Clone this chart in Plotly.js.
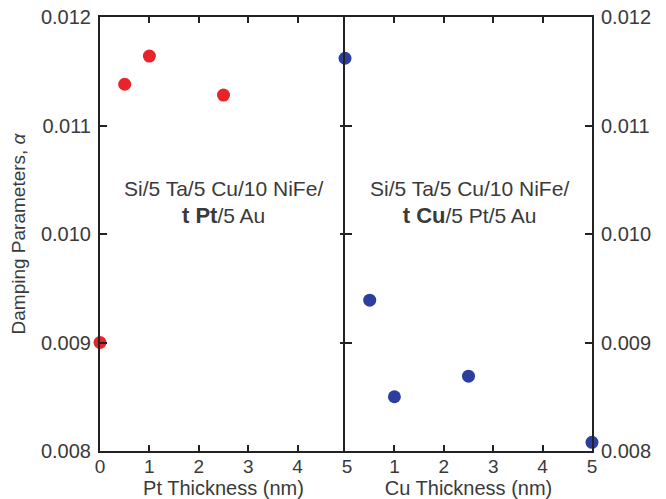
<!DOCTYPE html>
<html>
<head>
<meta charset="utf-8">
<script src="https://cdn.plot.ly/plotly-3.0.1.min.js"></script>
<style>html,body{margin:0;padding:0;background:#fff;}#chart{width:666px;height:499px;}</style>
</head>
<body>
<div id="chart"></div>
<script>
// Left panel: Pt thickness series
const ptThickness = [0, 0.5, 1, 2.5];
const ptDamping = [0.00900, 0.01138, 0.01164, 0.01128];
// Right panel: Cu thickness series
const cuThickness = [0, 0.5, 1, 2.5, 5];
const cuDamping = [0.01162, 0.00939, 0.00850, 0.00869, 0.00808];

const yTicks = [0.008, 0.009, 0.010, 0.011, 0.012];
const yTickText = ['0.008', '0.009', '0.010', '0.011', '0.012'];
const ptTicks = [0, 1, 2, 3, 4, 5];
const cuTicks = [1, 2, 3, 4, 5];

const labelPt = 'Si/5 Ta/5 Cu/10 NiFe/<br><span style="font-size:22px"><b>t Pt</b></span>/5 Au';
const labelCu = 'Si/5 Ta/5 Cu/10 NiFe/<br><span style="font-size:22px"><b>t Cu</b></span>/5 Pt/5 Au';

const fontFam = 'Liberation Sans, Arial, sans-serif';
const txtCol = '#3a3a3a';
const lineCol = '#222';

const traces = [
  {x: ptThickness, y: ptDamping, xaxis: 'x', yaxis: 'y', mode: 'markers', type: 'scatter',
   marker: {color: '#e8242b', size: 13}, cliponaxis: false, showlegend: false},
  {x: cuThickness, y: cuDamping, xaxis: 'x2', yaxis: 'y2', mode: 'markers', type: 'scatter',
   marker: {color: '#2d3f9e', size: 13}, cliponaxis: false, showlegend: false}
];

const xCommon = {range: [0, 5], showline: true, linecolor: lineCol, linewidth: 2,
  mirror: 'ticks', ticks: 'inside', ticklen: 6, tickwidth: 2, tickcolor: lineCol,
  showgrid: false, zeroline: false, tickfont: {size: 19, color: txtCol, family: fontFam},
  tickmode: 'array', fixedrange: true, ticklabelstandoff: -3};
const yCommon = {range: [0.008, 0.012], showline: true, linecolor: lineCol, linewidth: 2,
  mirror: 'ticks', ticks: 'inside', ticklen: 7, tickwidth: 2, tickcolor: lineCol,
  showgrid: false, zeroline: false, tickfont: {size: 20, color: txtCol, family: fontFam},
  tickmode: 'array', tickvals: yTicks, ticktext: yTickText, ticklabelstandoff: 3};

const layout = {
  width: 666, height: 499,
  margin: {l: 100, r: 74, t: 17, b: 48},
  paper_bgcolor: '#fff', plot_bgcolor: '#fff',
  font: {family: fontFam, color: txtCol},
  xaxis: Object.assign({}, xCommon, {domain: [0, 0.502], anchor: 'y', tickvals: ptTicks,
    title: {text: 'Pt Thickness (nm)', font: {size: 20, color: txtCol}, standoff: 3}}),
  xaxis2: Object.assign({}, xCommon, {domain: [0.498, 1], anchor: 'y2', tickvals: cuTicks,
    title: {text: 'Cu Thickness (nm)', font: {size: 20, color: txtCol}, standoff: 3}}),
  yaxis: Object.assign({}, yCommon, {domain: [0, 1], anchor: 'x', side: 'left',
    title: {text: 'Damping Parameters, <i>α</i>', font: {size: 19, color: txtCol, family: fontFam}, standoff: 10}}),
  yaxis2: Object.assign({}, yCommon, {domain: [0, 1], anchor: 'x2', side: 'right'}),
  annotations: [
    {xref: 'x', yref: 'y', x: 2.49, y: 0.01029, text: labelPt, showarrow: false,
     font: {size: 21, color: txtCol, family: fontFam}, align: 'center'},
    {xref: 'x2', yref: 'y2', x: 2.52, y: 0.01029, text: labelCu, showarrow: false,
     font: {size: 21, color: txtCol, family: fontFam}, align: 'center'}
  ]
};

Plotly.newPlot('chart', traces, layout, {displayModeBar: false, staticPlot: true});
</script>
</body>
</html>
